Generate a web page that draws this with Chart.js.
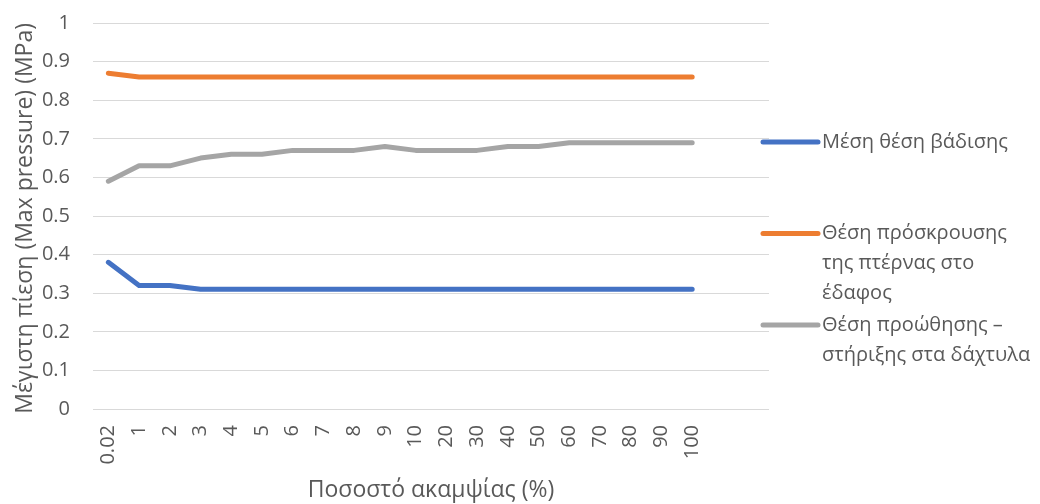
<!DOCTYPE html>
<html>
<head>
<meta charset="utf-8">
<script src="https://cdn.jsdelivr.net/npm/chart.js@4.4.1/dist/chart.umd.min.js"></script>
<style>
  html, body { margin: 0; padding: 0; background: #ffffff; }
  #wrap { width: 1040px; height: 504px; }
</style>
</head>
<body>
<div id="wrap"><canvas id="chart" width="1040" height="504"></canvas></div>
<script>
// Stiffness percentage categories (two trailing empty slots keep the axis open on the right)
const stiffnessLabels = ['0.02', '1', '2', '3', '4', '5', '6', '7', '8', '9', '10',
  '20', '30', '40', '50', '60', '70', '80', '90', '100', '', ''];

// Maximum pressure (MPa) per gait position
const midStance = [0.38, 0.32, 0.32, 0.31, 0.31, 0.31, 0.31, 0.31, 0.31, 0.31,
  0.31, 0.31, 0.31, 0.31, 0.31, 0.31, 0.31, 0.31, 0.31, 0.31];
const heelStrike = [0.87, 0.86, 0.86, 0.86, 0.86, 0.86, 0.86, 0.86, 0.86, 0.86,
  0.86, 0.86, 0.86, 0.86, 0.86, 0.86, 0.86, 0.86, 0.86, 0.86];
const toeOff = [0.59, 0.63, 0.63, 0.65, 0.66, 0.66, 0.67, 0.67, 0.67, 0.68,
  0.67, 0.67, 0.67, 0.68, 0.68, 0.69, 0.69, 0.69, 0.69, 0.69];

const seriesNames = ['Μέση θέση βάδισης', 'Θέση πρόσκρουσης της πτέρνας στο έδαφος',
  'Θέση προώθησης – στήριξης στα δάχτυλα'];
const seriesColors = ['#4472C4', '#ED7D31', '#A5A5A5'];

const FONT = "'Open Sans', 'Noto Sans', sans-serif";
const FONT_SIZE = 20;
const TITLE_SIZE = 23;
const TEXT = '#595959';

function wrapText(ctx, text, maxWidth) {
  const words = text.split(' ');
  const lines = [];
  let line = '';
  for (const w of words) {
    const test = line ? line + ' ' + w : w;
    if (line && ctx.measureText(test).width > maxWidth) {
      lines.push(line);
      line = w;
    } else {
      line = test;
    }
  }
  if (line) lines.push(line);
  return lines;
}

// Right-hand legend with wrapped entries
const sideLegend = {
  id: 'sideLegend',
  afterDraw(chart) {
    const ctx = chart.ctx;
    const x0 = chart.chartArea.right - 6;
    const lineLen = 55;
    const textX = x0 + lineLen + 4;
    const maxW = chart.width - textX - 4;
    const rowH = 30;
    const slotH = 91.5;
    const firstY = 142;
    ctx.save();
    ctx.font = FONT_SIZE + 'px ' + FONT;
    ctx.textBaseline = 'middle';
    ctx.textAlign = 'left';
    chart.data.datasets.forEach((ds, i) => {
      const y = firstY + i * slotH;
      ctx.strokeStyle = ds.borderColor;
      ctx.lineWidth = 5;
      ctx.lineCap = 'round';
      ctx.beginPath();
      ctx.moveTo(x0, y);
      ctx.lineTo(x0 + lineLen, y);
      ctx.stroke();
      ctx.fillStyle = TEXT;
      wrapText(ctx, ds.label, maxW).forEach((ln, k) => {
        ctx.fillText(ln, textX, y + k * rowH);
      });
    });
    ctx.restore();
  }
};

const makeSet = (label, data, color) => ({
  label, data,
  borderColor: color,
  backgroundColor: color,
  borderWidth: 5,
  borderCapStyle: 'round',
  borderJoinStyle: 'round',
  pointRadius: 0,
  tension: 0,
  fill: false
});

new Chart(document.getElementById('chart'), {
  type: 'line',
  data: {
    labels: stiffnessLabels,
    datasets: [
      makeSet(seriesNames[0], midStance, seriesColors[0]),
      makeSet(seriesNames[1], heelStrike, seriesColors[1]),
      makeSet(seriesNames[2], toeOff, seriesColors[2])
    ]
  },
  options: {
    responsive: false,
    animation: false,
    layout: { padding: { left: 0, right: 271, top: 23, bottom: 0 } },
    plugins: {
      legend: { display: false },
      tooltip: { enabled: false }
    },
    scales: {
      x: {
        offset: true,
        grid: { display: false, drawTicks: false },
        border: { display: false },
        ticks: {
          autoSkip: false,
          minRotation: 90,
          maxRotation: 90,
          padding: 16,
          color: TEXT,
          font: { family: FONT, size: FONT_SIZE }
        },
        title: {
          display: true,
          text: 'Ποσοστό ακαμψίας (%)',
          color: TEXT,
          font: { family: FONT, size: TITLE_SIZE },
          padding: { top: 0, bottom: 0 }
        },
        afterFit(scale) { scale.height = 95; }
      },
      y: {
        min: 0,
        max: 1,
        grid: {
          color: '#D9D9D9',
          lineWidth: 1,
          drawTicks: true,
          tickLength: 22,
          tickColor: 'rgba(0,0,0,0)'
        },
        border: { display: false },
        ticks: {
          stepSize: 0.1,
          padding: 1,
          color: TEXT,
          font: { family: FONT, size: FONT_SIZE },
          callback: (v) => String(Math.round(v * 10) / 10)
        },
        title: {
          display: true,
          align: 'end',
          text: 'Μέγιστη πίεση (Max pressure) (MPa)',
          color: TEXT,
          font: { family: FONT, size: TITLE_SIZE },
          padding: { top: 12, bottom: 0 }
        },
        afterFit(scale) { scale.width = 93; }
      }
    }
  },
  plugins: [sideLegend]
});
</script>
</body>
</html>
